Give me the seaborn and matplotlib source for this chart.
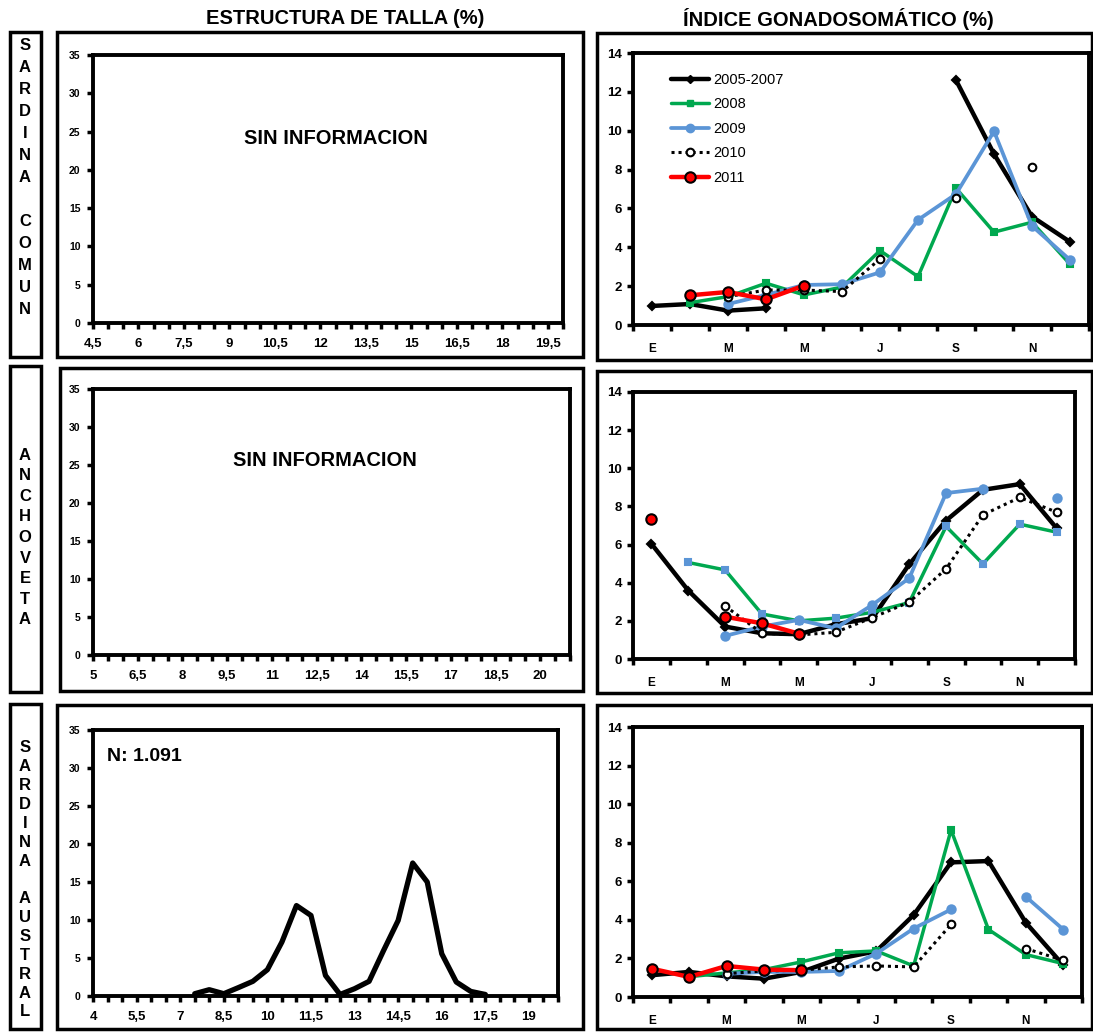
import numpy as np
import pandas as pd
import matplotlib
matplotlib.use('Agg')
import matplotlib.pyplot as plt
import seaborn as sns
from matplotlib.patches import Rectangle
from matplotlib.lines import Line2D

W, H = 1093, 1032
nan = np.nan

meses = ['E', 'F', 'M', 'A', 'M', 'J', 'J', 'A', 'S', 'O', 'N', 'D']
series = ['2005-2007', '2008', '2009', '2010', '2011']

# IGS sardina comun
sc_0507 = [0.98, 1.08, 0.74, 0.86, nan, nan, nan, nan, 12.6, 8.8, 5.58, 4.28]
sc_2008 = [nan, 1.15, 1.46, 2.15, 1.55, 1.95, 3.83, 2.49, 7.04, 4.78, 5.29, 3.13]
sc_2009 = [nan, nan, 1.08, 1.55, 2.06, 2.1, 2.71, 5.41, 6.74, 9.97, 5.1, 3.35]
sc_2010 = [nan, nan, 1.46, 1.8, 1.8, 1.72, 3.4, nan, 6.53, nan, 8.13, nan]
sc_2011 = [nan, 1.53, 1.7, 1.32, 2.03, nan, nan, nan, nan, nan, nan, nan]

# IGS anchoveta
an_0507 = [6.04, 3.59, 1.70, 1.35, 1.3, 1.82, 2.14, 4.97, 7.26, 8.87, 9.17, 6.86]
an_2008 = [nan, 5.06, 4.67, 2.36, 2.0, 2.14, 2.45, 2.96, 6.95, 4.99, 7.07, 6.65]
an_2009 = [nan, nan, 1.21, 1.7, 2.05, 1.61, 2.84, 4.24, 8.7, 8.93, nan, 8.42]
an_2010 = [nan, nan, 2.78, 1.35, 1.26, 1.4, 2.17, 2.98, 4.73, 7.56, 8.47, 7.7]
an_2011 = [7.35, nan, 2.22, 1.87, 1.33, nan, nan, nan, nan, nan, nan, nan]

# IGS sardina austral
sa_0507 = [1.13, 1.3, 1.07, 0.95, 1.3, 1.99, 2.37, 4.25, 6.98, 7.05, 3.85, 1.65]
sa_2008 = [nan, 1.05, 1.25, 1.42, 1.82, 2.29, 2.39, 1.61, 8.66, 3.5, 2.2, 1.73]
sa_2009 = [nan, nan, 1.2, 1.3, 1.3, 1.35, 2.25, 3.55, 4.54, nan, 5.2, 3.5]
sa_2010 = [nan, nan, 1.21, 1.35, 1.39, 1.56, 1.61, 1.56, 3.76, nan, 2.51, 1.9]
sa_2011 = [1.47, 1.04, 1.61, 1.42, 1.39, nan, nan, nan, nan, nan, nan, nan]

# estructura de talla sardina austral (%)
talla_austral = [7.5, 8, 8.5, 9, 9.5, 10, 10.5, 11, 11.5, 12, 12.5, 13, 13.5,
                 14, 14.5, 15, 15.5, 16, 16.5, 17, 17.5]
pct_austral = [0.3, 0.83, 0.3, 1.1, 1.93, 3.46, 7.1, 11.9, 10.6, 2.7, 0.2, 0.96,
               1.93, 6.0, 9.94, 17.5, 15.0, 5.56, 1.84, 0.6, 0.2]

verde = '#00a84f'
azul = '#5b95d6'
rojo = '#ff0000'

sns.set_style('white')
plt.rcParams['font.family'] = ['Liberation Sans', 'DejaVu Sans']
plt.rcParams['font.weight'] = 'bold'
plt.rcParams['text.color'] = 'black'
plt.rcParams['xtick.color'] = 'black'
plt.rcParams['ytick.color'] = 'black'
plt.rcParams['axes.labelcolor'] = 'black'

fig = plt.figure(figsize=(W / 100, H / 100), dpi=100)


def px(x0, y0, x1, y1):
    return [x0 / W, 1 - y1 / H, (x1 - x0) / W, (y1 - y0) / H]


def caja(x0, y0, x1, y1, lw=2.5):
    fig.patches.append(Rectangle((x0 / W, 1 - y1 / H), (x1 - x0) / W, (y1 - y0) / H,
                                 transform=fig.transFigure, fill=False,
                                 edgecolor='black', linewidth=lw))


def marco(ax):
    for s in ax.spines.values():
        s.set_visible(True)
        s.set_color('black')
        s.set_linewidth(2.8)


def serie(ax, valores, color, marker, ms, mfc, mec, ls='-', lw=2.5, z=2):
    df = pd.DataFrame({'mes': range(12), 'igs': valores})
    df['tramo'] = df['igs'].isna().cumsum()
    df = df.dropna()
    sns.lineplot(data=df, x='mes', y='igs', units='tramo', estimator=None,
                 color=color, marker=marker, markersize=ms, markerfacecolor=mfc,
                 markeredgecolor=mec, markeredgewidth=1.5, linestyle=ls,
                 linewidth=lw, ax=ax, legend=False, zorder=z)


def panel_igs(ax, datos, mfc08):
    estilos = [
        dict(color='black', marker='D', ms=4, mfc='black', mec='black', lw=3.2),
        dict(color=verde, marker='s', ms=5, mfc=mfc08, mec=mfc08, lw=2.5),
        dict(color=azul, marker='o', ms=6, mfc=azul, mec=azul, lw=2.7),
        dict(color='black', marker='o', ms=5.5, mfc='white', mec='black', lw=2.2,
             ls=(0, (1, 1.3))),
        dict(color=rojo, marker='o', ms=7.5, mfc=rojo, mec='black', lw=3.2),
    ]
    for i, (vals, st) in enumerate(zip(datos, estilos)):
        serie(ax, vals, st['color'], st['marker'], st['ms'], st['mfc'], st['mec'],
              ls=st.get('ls', '-'), lw=st['lw'], z=2 + i)
    ax.set_xlim(-0.5, 11.5)
    ax.set_ylim(0, 14)
    ax.set_yticks(range(0, 15, 2))
    ax.set_xticks(range(0, 12, 2))
    ax.set_xticklabels(meses[::2])
    ax.set_xticks(np.arange(-0.5, 12, 1), minor=True)
    ax.tick_params(axis='x', which='major', length=0, labelsize=8.5, pad=13)
    ax.tick_params(axis='x', which='minor', length=4, width=2.5, direction='out',
                   bottom=True)
    ax.tick_params(axis='y', length=4, width=2.5, direction='out', left=True,
                   labelsize=9.5, pad=4)
    ax.set_xlabel('')
    ax.set_ylabel('')
    marco(ax)


def panel_talla(ax, x0, x1):
    ax.set_xlim(x0, x1)
    ax.set_ylim(0, 35)
    ax.set_yticks(range(0, 36, 5))
    pos = np.arange(x0, x1 + 0.01, 0.5)
    ax.set_xticks(pos)
    etiquetas = []
    for i, p in enumerate(pos):
        if i % 3 == 0 and p <= x1 - 0.5:
            etiquetas.append(('%g' % p).replace('.', ','))
        else:
            etiquetas.append('')
    ax.set_xticklabels(etiquetas)
    ax.tick_params(axis='x', length=4, width=2.5, direction='out', bottom=True,
                   labelsize=9.5, pad=7)
    ax.tick_params(axis='y', length=4, width=2.5, direction='out', left=True,
                   labelsize=7.5, pad=5)
    ax.set_xlabel('')
    ax.set_ylabel('')
    marco(ax)


# cajas exteriores
caja(10, 32, 41, 357)
caja(10, 366, 41, 692)
caja(10, 704, 41, 1029)
caja(57, 32, 583, 357)
caja(60, 368, 583, 691)
caja(57, 705, 583, 1029)
caja(597, 33, 1092, 360)
caja(597, 371, 1092, 693)
caja(597, 705, 1092, 1029)

fig.text(345 / W, 1 - 19 / H, 'ESTRUCTURA DE TALLA (%)', ha='center', va='center',
         fontsize=14.5, fontweight='bold')
fig.text(838 / W, 1 - 19 / H, 'ÍNDICE GONADOSOMÁTICO (%)', ha='center', va='center',
         fontsize=14.5, fontweight='bold')

# etiquetas laterales
for texto, ya, yb in [('SARDINA COMUN', 45, 310), ('ANCHOVETA', 455, 620),
                      ('SARDINA AUSTRAL', 748, 1012)]:
    n = len(texto)
    for i, letra in enumerate(texto):
        y = ya + (yb - ya) * i / (n - 1)
        fig.text(25 / W, 1 - y / H, letra, ha='center', va='center',
                 fontsize=12, fontweight='bold')

# talla
ax1 = fig.add_axes(px(93, 55, 563, 323))
panel_talla(ax1, 4.5, 20)
ax1.text(0.517, 0.69, 'SIN INFORMACION', transform=ax1.transAxes, ha='center',
         va='center', fontsize=14.5, fontweight='bold')

ax3 = fig.add_axes(px(93, 389, 570, 655))
panel_talla(ax3, 5, 21)
ax3.text(0.487, 0.73, 'SIN INFORMACION', transform=ax3.transAxes, ha='center',
         va='center', fontsize=14.5, fontweight='bold')

ax5 = fig.add_axes(px(93, 730, 558, 996))
panel_talla(ax5, 4, 20)
df_t = pd.DataFrame({'talla': talla_austral, 'pct': pct_austral})
sns.lineplot(data=df_t, x='talla', y='pct', color='black', linewidth=3.8, ax=ax5)
ax5.set_xlabel('')
ax5.set_ylabel('')
ax5.text(0.03, 0.9, 'N: 1.091', transform=ax5.transAxes, ha='left', va='center',
         fontsize=14, fontweight='bold')

# IGS
ax2 = fig.add_axes(px(633, 53, 1089, 325))
panel_igs(ax2, [sc_0507, sc_2008, sc_2009, sc_2010, sc_2011], verde)
handles = [
    Line2D([], [], color='black', marker='D', ms=4, lw=3.2),
    Line2D([], [], color=verde, marker='s', ms=5, lw=2.5),
    Line2D([], [], color=azul, marker='o', ms=6, lw=2.7),
    Line2D([], [], color='black', marker='o', ms=5.5, mfc='white', mew=1.5, lw=2.2,
           ls=(0, (1, 1.3))),
    Line2D([], [], color=rojo, marker='o', ms=7.5, mec='black', mew=1.5, lw=3.2),
]
leg = ax2.legend(handles, series, loc='upper left', bbox_to_anchor=(0.055, 0.975),
                 frameon=False, handlelength=2.6, labelspacing=0.72,
                 prop={'size': 10.5, 'weight': 'normal'}, handletextpad=0.3)

ax4 = fig.add_axes(px(633, 392, 1075, 659))
panel_igs(ax4, [an_0507, an_2008, an_2009, an_2010, an_2011], azul)

ax6 = fig.add_axes(px(633, 727, 1082, 997))
panel_igs(ax6, [sa_0507, sa_2008, sa_2009, sa_2010, sa_2011], verde)

fig.savefig('out.png', dpi=100)
